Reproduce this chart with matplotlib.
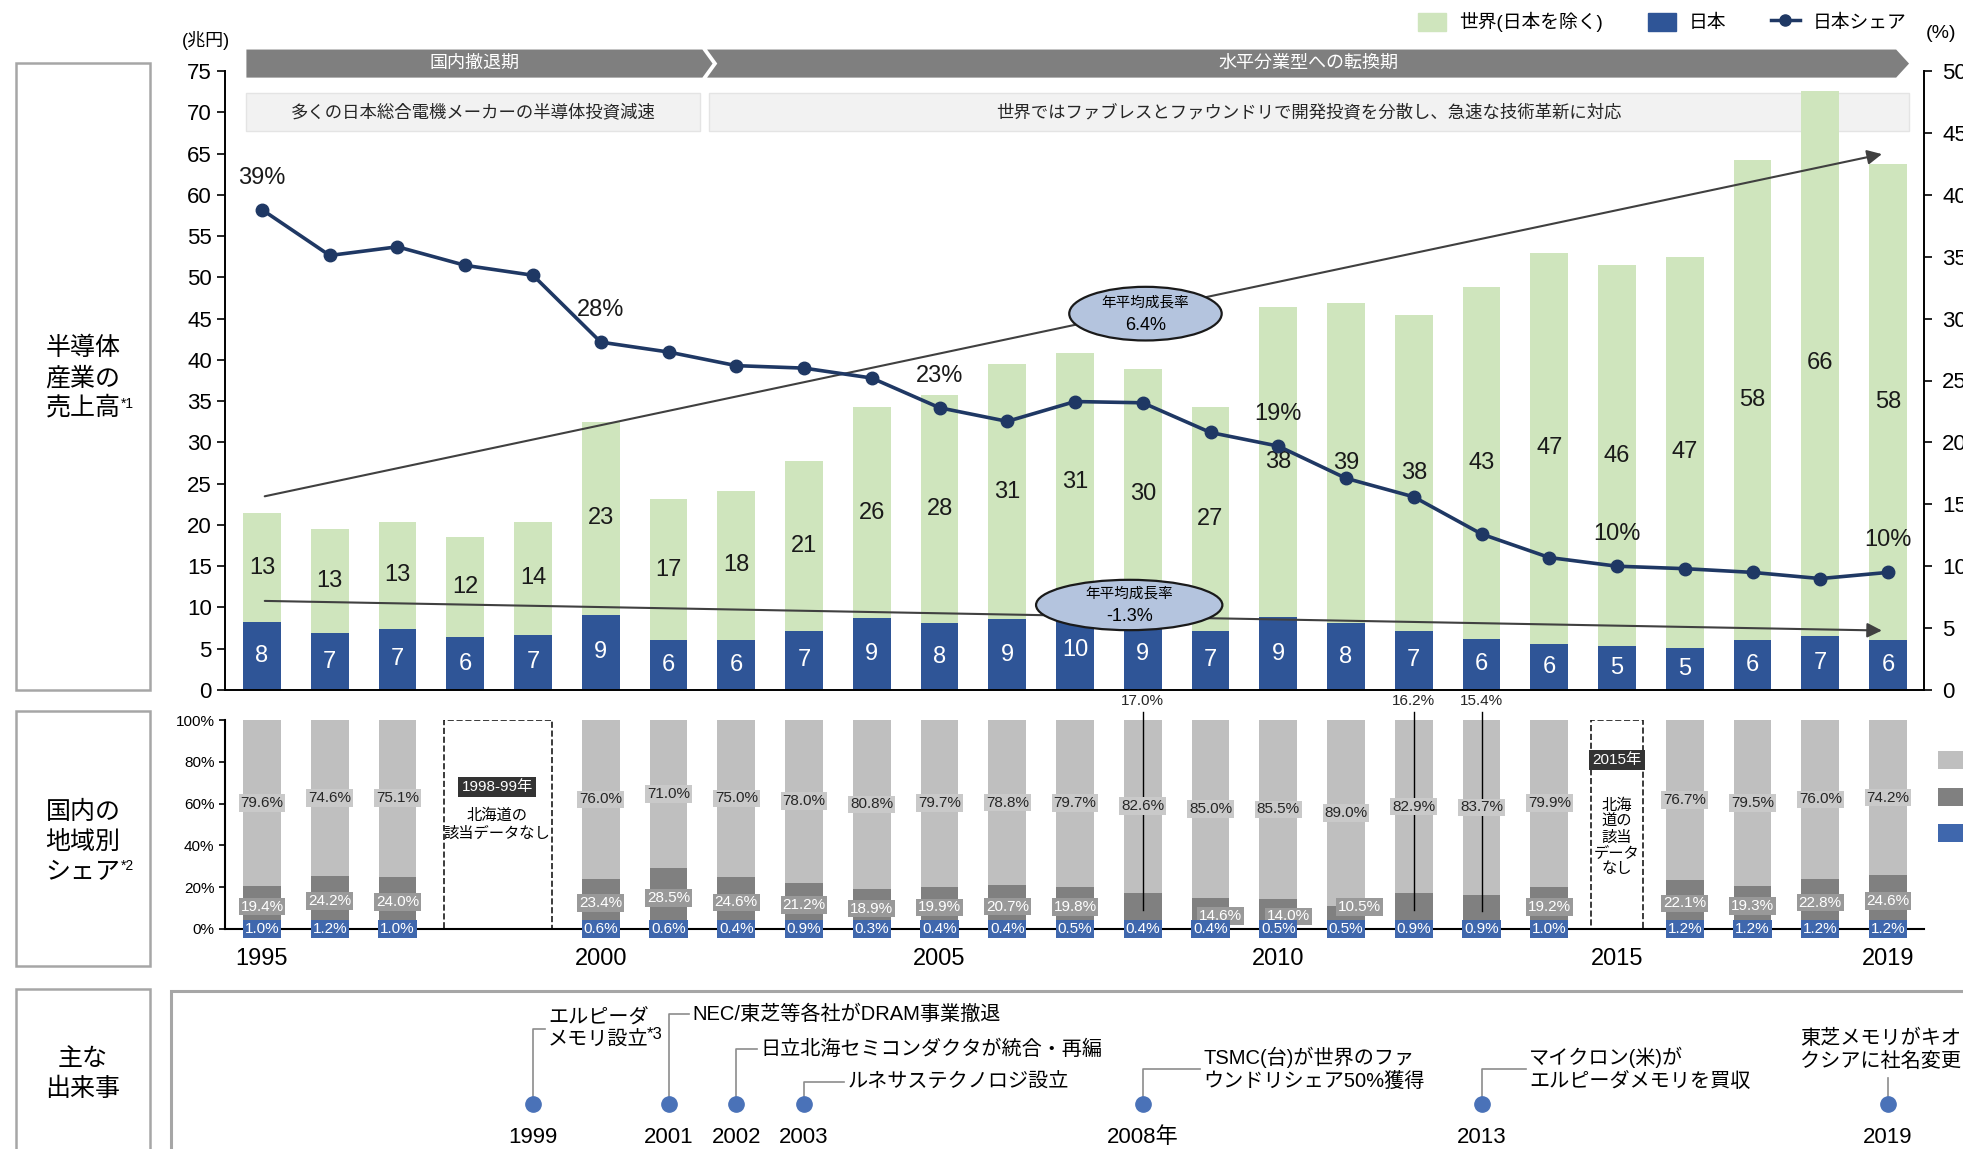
import matplotlib
matplotlib.use('Agg')
import matplotlib.pyplot as plt
from matplotlib import font_manager
from matplotlib.patches import Rectangle, Polygon, Ellipse, Patch
from matplotlib.lines import Line2D

# ---- data ----
years = list(range(1995, 2020))
# sales, trillion yen (bar heights; labels are the rounded values)
japan = [8.2, 6.9, 7.4, 6.4, 6.7, 9.1, 6.1, 6.1, 7.2, 8.7, 8.1, 8.6, 9.7, 8.7, 7.2,
         8.8, 8.1, 7.2, 6.2, 5.6, 5.3, 5.1, 6.1, 6.6, 6.1]
world_ex_japan = [13.2, 12.6, 13.0, 12.1, 13.7, 23.4, 17.0, 18.0, 20.6, 25.6, 27.7, 30.9, 31.1,
                  30.2, 27.1, 37.6, 38.8, 38.2, 42.6, 47.4, 46.2, 47.4, 58.1, 66.0, 57.6]
japan_share = [38.8, 35.1, 35.8, 34.3, 33.5, 28.1, 27.3, 26.2, 26.0, 25.2, 22.8, 21.7, 23.3,
               23.2, 20.8, 19.7, 17.1, 15.6, 12.6, 10.7, 10.0, 9.8, 9.5, 9.0, 9.5]
share_label_years = [1995, 2000, 2005, 2010, 2015, 2019]
share_label_text = ['39%', '28%', '23%', '19%', '10%', '10%']

trend_x = [1995.0, 2018.95]
trend_world = [23.4, 65.0]
trend_japan = [10.8, 7.2]
cagr_world = '6.4%'
cagr_japan = '-1.3%'

region_years = [1995, 1996, 1997, 2000, 2001, 2002, 2003, 2004, 2005, 2006, 2007,
                2008, 2009, 2010, 2011, 2012, 2013, 2014, 2016, 2017, 2018, 2019]
other_share = [79.6, 74.6, 75.1, 76.0, 71.0, 75.0, 78.0, 80.8, 79.7, 78.8, 79.7,
               82.6, 85.0, 85.5, 89.0, 82.9, 83.7, 79.9, 76.7, 79.5, 76.0, 74.2]
middle_share = [19.4, 24.2, 24.0, 23.4, 28.5, 24.6, 21.2, 18.9, 19.9, 20.7, 19.8,
                17.0, 14.6, 14.0, 10.5, 16.2, 15.4, 19.2, 22.1, 19.3, 22.8, 24.6]
hokkaido_share = [1.0, 1.2, 1.0, 0.6, 0.6, 0.4, 0.9, 0.3, 0.4, 0.4, 0.5,
                  0.4, 0.4, 0.5, 0.5, 0.9, 0.9, 1.0, 1.2, 1.2, 1.2, 1.2]
mid_year_ticks = [1995, 2000, 2005, 2010, 2015, 2019]

event_years = [1999, 2001, 2002, 2003, 2008, 2013, 2019]
event_year_labels = ['1999', '2001', '2002', '2003', '2008年', '2013', '2019']
event_texts = ['エルピーダ\nメモリ設立',
               'NEC/東芝等各社がDRAM事業撤退',
               '日立北海セミコンダクタが統合・再編',
               'ルネサステクノロジ設立',
               'TSMC(台)が世界のファ\nウンドリシェア50%獲得',
               'マイクロン(米)が\nエルピーダメモリを買収',
               '東芝メモリがキオ\nクシアに社名変更']
# layout of the event callouts: (connector height, text x)
event_layout = [(0.765, 1999.22), (0.86, 2001.35), (0.637, 2002.35), (0.427, 2003.64),
                (0.51, 2008.90), (0.51, 2013.70), (0.45, 2017.70)]

# ---- style ----
names = {f.name for f in font_manager.fontManager.ttflist}
num_font = 'Liberation Sans' if 'Liberation Sans' in names else 'DejaVu Sans'
plt.rcParams['font.family'] = [num_font, 'Noto Sans CJK JP', 'DejaVu Sans']

GREEN = '#cfe5bd'
BLUE = '#2f5597'
NAVY = '#1f3864'
LGRAY = '#bfbfbf'
DGRAY = '#808080'
MBLUE = '#3f67ad'

W, H = 1963, 1149
fig = plt.figure(figsize=(W / 100, H / 100), dpi=100)


def fx(px):
    return px / W


def fy(py):
    return 1 - py / H


X0, X1 = 1994.454, 2019.531
bar_w = 0.56

# ---- top panel: sales ----
ax = fig.add_axes([fx(225), fy(690), fx(1924) - fx(225), fy(71) - fy(690)])
ax.bar(years, japan, bar_w, color=BLUE, zorder=2)
ax.bar(years, world_ex_japan, bar_w, bottom=japan, color=GREEN, zorder=2)
for x, j, w in zip(years, japan, world_ex_japan):
    ax.text(x, j / 2, str(round(j)), ha='center', va='center', color='white', fontsize=17, zorder=3)
    ax.text(x, j + w / 2, str(round(w)), ha='center', va='center', color='#1a1a1a', fontsize=17,
            zorder=3)
ax.set_xlim(X0, X1)
ax.set_ylim(0, 75)
ax.set_yticks(range(0, 76, 5))
ax.set_xticks([])
ax.tick_params(axis='y', direction='out', length=6, width=1.2, labelsize=16)
for s in ['top', 'right']:
    ax.spines[s].set_visible(False)
for s in ['left', 'bottom']:
    ax.spines[s].set_linewidth(1.4)

# phase bands
ax.add_patch(Polygon([(1994.77, 74.2), (1994.77, 77.6), (2001.50, 77.6), (2001.65, 75.9),
                      (2001.50, 74.2)], closed=True, fc='#7f7f7f', ec='none', clip_on=False, zorder=1))
ax.add_patch(Polygon([(2001.57, 74.2), (2001.72, 75.9), (2001.57, 77.6), (2019.12, 77.6),
                      (2019.31, 75.9), (2019.12, 74.2)], closed=True, fc='#7f7f7f', ec='none',
                     clip_on=False, zorder=1))
ax.text((1994.77 + 2001.5) / 2, 75.9, '国内撤退期', color='white', ha='center', va='center', fontsize=13)
ax.text((2001.57 + 2019.31) / 2, 75.9, '水平分業型への転換期', color='white', ha='center', va='center',
        fontsize=13)
ax.add_patch(Rectangle((1994.77, 67.7), 2001.46 - 1994.77, 4.6, fc='#f2f2f2', ec='#e4e4e4', zorder=1))
ax.add_patch(Rectangle((2001.60, 67.7), 2019.31 - 2001.60, 4.6, fc='#f2f2f2', ec='#e4e4e4', zorder=1))
ax.text((1994.77 + 2001.46) / 2, 70.0, '多くの日本総合電機メーカーの半導体投資減速', ha='center', va='center',
        fontsize=12.5, color='#262626')
ax.text((2001.60 + 2019.31) / 2, 70.0, '世界ではファブレスとファウンドリで開発投資を分散し、急速な技術革新に対応',
        ha='center', va='center', fontsize=12.5, color='#262626')

# trend arrows and CAGR ellipses
for vals in (trend_world, trend_japan):
    ax.annotate('', xy=(trend_x[1], vals[1]), xytext=(trend_x[0], vals[0]),
                arrowprops=dict(arrowstyle='-|>', color='#404040', lw=1.5, mutation_scale=22),
                zorder=4)
for cx, cy, w, h, txt in [(2008.04, 45.6, 2.25, 6.5, cagr_world), (2007.8, 10.3, 2.75, 6.1, cagr_japan)]:
    ax.add_patch(Ellipse((cx, cy), w, h, fc='#b4c4de', ec='#1a1a1a', lw=1.6, zorder=5))
    ax.text(cx, cy + 1.35, '年平均成長率', ha='center', va='center', fontsize=10.5, zorder=6)
    ax.text(cx, cy - 1.4, txt, ha='center', va='center', fontsize=13, zorder=6)

# share line on right axis
ax2 = ax.twinx()
ax2.plot(years, japan_share, color=NAVY, lw=2.6, marker='o', ms=9, zorder=5)
for yr, t in zip(share_label_years, share_label_text):
    v = japan_share[years.index(yr)]
    ax2.annotate(t, (yr, v), xytext=(0, 23), textcoords='offset points', ha='center', va='center',
                 fontsize=17, color='#1a1a1a')
ax2.set_ylim(0, 50)
ax2.set_yticks(range(0, 51, 5))
ax2.tick_params(axis='y', direction='out', length=6, width=1.2, labelsize=16, pad=7)
for s in ['top', 'left', 'bottom']:
    ax2.spines[s].set_visible(False)
ax2.spines['right'].set_linewidth(1.4)

fig.text(fx(182), fy(41), '(兆円)', ha='left', va='center', fontsize=13)
fig.text(fx(1926), fy(34), '(%)', ha='left', va='center', fontsize=14)

handles = [Patch(color=GREEN), Patch(color=BLUE),
           Line2D([], [], color=NAVY, lw=2.5, marker='o', ms=8)]
fig.legend(handles, ['世界(日本を除く)', '日本', '日本シェア'], ncol=3, frameon=False,
           loc='center', bbox_to_anchor=(fx(1662), fy(22)), fontsize=13.5,
           handlelength=1.5, handleheight=1.1, columnspacing=2.4, handletextpad=0.7)

# ---- middle panel: regional share ----
am = fig.add_axes([fx(225), fy(929), fx(1924) - fx(225), fy(720) - fy(929)])
bottoms2 = [h + m for h, m in zip(hokkaido_share, middle_share)]
am.bar(region_years, hokkaido_share, bar_w, color=MBLUE, zorder=2)
am.bar(region_years, middle_share, bar_w, bottom=hokkaido_share, color=DGRAY, zorder=2)
am.bar(region_years, other_share, bar_w, bottom=bottoms2, color=LGRAY, zorder=2)
lbl = dict(ha='center', va='center', fontsize=11, zorder=4)
for x, h, m, o in zip(region_years, hokkaido_share, middle_share, other_share):
    am.text(x, h + m + o / 2, f'{o:.1f}%', color='#262626',
            bbox=dict(boxstyle='square,pad=0.12', fc='#c9c9c9', ec='none'), **lbl)
    if x in (2008, 2012, 2013):
        am.plot([x, x], [104, h + m / 2], color='black', lw=1, zorder=3, clip_on=False)
        am.text(x, 109, f'{m:.1f}%', color='#262626', clip_on=False, **lbl)
    else:
        if x in (2009, 2010):
            dx, yy = 0.15, h + m / 2 - 1.5
        elif x == 2011:
            dx, yy = 0.2, 10.5
        else:
            dx, yy = 0, h + m / 2
        am.text(x + dx, yy, f'{m:.1f}%', color='white',
                bbox=dict(boxstyle='square,pad=0.12', fc='#999999', ec='none'), **lbl)
    am.text(x, 0, f'{h:.1f}%', color='white',
            bbox=dict(boxstyle='square,pad=0.12', fc=MBLUE, ec='none'), **lbl)

# no-data boxes
am.add_patch(Rectangle((1997.69, 0), 1.59, 100, fill=False, ls='--', ec='#1a1a1a', lw=1.2, zorder=1))
am.text(1998.47, 68, '1998-99年', color='white', ha='center', va='center', fontsize=11,
        bbox=dict(boxstyle='square,pad=0.2', fc='#333333', ec='none'))
am.text(1998.47, 50, '北海道の\n該当データなし', ha='center', va='center', fontsize=11, linespacing=1.3)
am.add_patch(Rectangle((2014.62, 0), 0.76, 100, fill=False, ls='--', ec='#1a1a1a', lw=1.2, zorder=1))
am.text(2015.0, 81, '2015年', color='white', ha='center', va='center', fontsize=11,
        bbox=dict(boxstyle='square,pad=0.2', fc='#333333', ec='none'))
am.text(2015.0, 44, '北海\n道の\n該当\nデータ\nなし', ha='center', va='center', fontsize=11, linespacing=1.15)

am.set_xlim(X0, X1)
am.set_ylim(0, 100)
am.set_yticks(range(0, 101, 20))
am.set_yticklabels([f'{v}%' for v in range(0, 101, 20)])
am.set_xticks(mid_year_ticks)
am.tick_params(axis='y', direction='out', length=4, width=1.2, labelsize=11)
am.tick_params(axis='x', length=0, pad=14, labelsize=17)
for s in ['top', 'right']:
    am.spines[s].set_visible(False)
for s in ['left', 'bottom']:
    am.spines[s].set_linewidth(1.5)

for py, c in [(751, LGRAY), (788, DGRAY), (824, MBLUE)]:
    fig.patches.append(Rectangle((fx(1938), fy(py + 18)), 0.03, fy(py) - fy(py + 18), fc=c, ec='none',
                                 transform=fig.transFigure))

# ---- bottom panel: events ----
ae = fig.add_axes([fx(225), 0, fx(1924) - fx(225), fy(992)])
ae.set_xlim(X0, X1)
ae.set_ylim(0, 1)
ae.axis('off')
for yr, ylab, txt, (cy, tx) in zip(event_years, event_year_labels, event_texts, event_layout):
    ae.plot([yr], [0.287], 'o', color='#4a72b8', ms=11, zorder=3)
    ae.text(yr, 0.075, ylab, ha='center', va='center', fontsize=16)
    if yr == 2019:
        ae.plot([yr, yr], [0.287, cy], color='#8c8c8c', lw=1.2)
        ae.text(tx, 0.63, txt, ha='left', va='center', fontsize=14.5, linespacing=1.25)
    else:
        ae.plot([yr, yr, tx - 0.05], [0.287, cy, cy], color='#8c8c8c', lw=1.2)
        ae.text(tx, cy, txt, ha='left', va='center', fontsize=14.5, linespacing=1.25)
ae.text(2000.68, 0.73, '*3', ha='left', va='center', fontsize=12)

# ---- row label boxes ----
for top, bot in [(63, 690), (711, 966), (989, 1160)]:
    fig.patches.append(Rectangle((fx(16), fy(bot)), fx(150) - fx(16), fy(top) - fy(bot), fill=False,
                                 ec='#a6a6a6', lw=1.8, transform=fig.transFigure))
fig.patches.append(Rectangle((fx(171), fy(1160)), 0.95, fy(991) - fy(1160), fill=False,
                             ec='#a6a6a6', lw=2.2, transform=fig.transFigure))
fig.text(fx(83), fy(378), '半導体\n産業の\n売上高', ha='center', va='center', fontsize=18, linespacing=1.3)
fig.text(fx(121), fy(404), '*1', ha='left', va='center', fontsize=10)
fig.text(fx(83), fy(842), '国内の\n地域別\nシェア', ha='center', va='center', fontsize=18, linespacing=1.3)
fig.text(fx(121), fy(866), '*2', ha='left', va='center', fontsize=10)
fig.text(fx(83), fy(1074), '主な\n出来事', ha='center', va='center', fontsize=18, linespacing=1.3)

fig.savefig('out.png', dpi=100)
